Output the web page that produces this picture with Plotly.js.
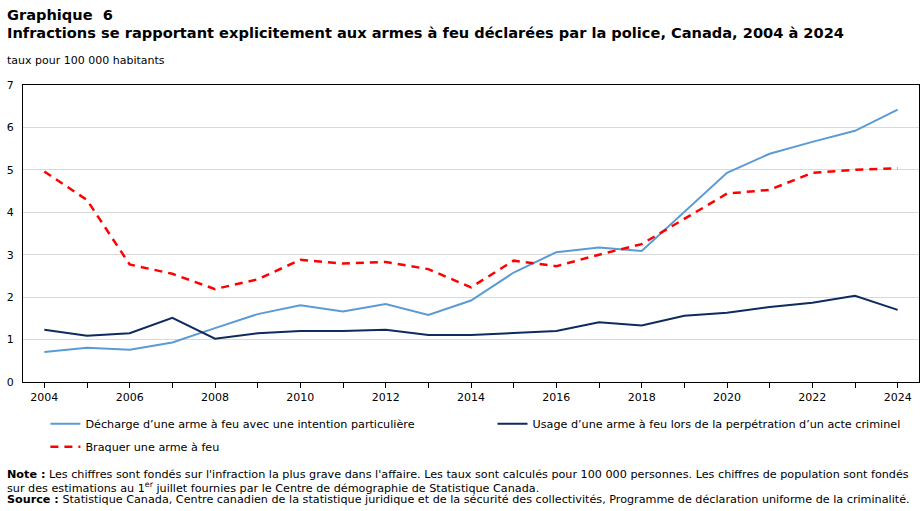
<!DOCTYPE html>
<html>
<head>
<meta charset="utf-8">
<script src="https://cdn.plot.ly/plotly-3.0.1.min.js"></script>
<style>
  html, body { margin: 0; padding: 0; background: #fff; }
  #chart { width: 924px; height: 511px; }
</style>
</head>
<body>
<div id="chart"></div>
<script>
// Années de référence
const years = [2004, 2005, 2006, 2007, 2008, 2009, 2010, 2011, 2012, 2013, 2014,
               2015, 2016, 2017, 2018, 2019, 2020, 2021, 2022, 2023, 2024];

// Taux pour 100 000 habitants
const decharge = [0.71, 0.81, 0.76, 0.93, 1.27, 1.60, 1.81, 1.66, 1.84, 1.58, 1.92,
                  2.58, 3.06, 3.17, 3.09, 4.01, 4.93, 5.38, 5.66, 5.92, 6.42];
const usage    = [1.23, 1.09, 1.15, 1.51, 1.02, 1.15, 1.20, 1.20, 1.23, 1.11, 1.11,
                  1.15, 1.20, 1.41, 1.33, 1.56, 1.63, 1.77, 1.87, 2.03, 1.70];
const braquer  = [4.96, 4.29, 2.77, 2.55, 2.19, 2.42, 2.88, 2.79, 2.83, 2.66, 2.23,
                  2.86, 2.73, 3.00, 3.25, 3.84, 4.44, 4.53, 4.93, 5.00, 5.04];

const seriesNames = [
  "Décharge d’une arme à feu avec une intention particulière",
  "Usage d’une arme à feu lors de la perpétration d’un acte criminel",
  "Braquer une arme à feu"
];

const xTickVals = [2004, 2006, 2008, 2010, 2012, 2014, 2016, 2018, 2020, 2022, 2024];
const yTickVals = [0, 1, 2, 3, 4, 5, 6, 7];

const baseFont = "Verdana, 'DejaVu Sans', sans-serif";
const legendFont = { family: baseFont, size: 11.2, color: "#000" };
const noteFont = { family: baseFont, size: 11.2, color: "#000" };

const traces = [
  { x: years, y: decharge, name: seriesNames[0], type: "scatter", mode: "lines",
    legend: "legend",
    line: { color: "#5b9bd5", width: 2 } },
  { x: years, y: usage, name: seriesNames[1], type: "scatter", mode: "lines",
    legend: "legend2",
    line: { color: "#0f2a5e", width: 2 } },
  { x: years, y: braquer, name: seriesNames[2], type: "scatter", mode: "lines",
    legend: "legend3",
    line: { color: "#ff0000", width: 2.5, dash: "8px,6px" } }
];

// Légende sur deux rangées : deux entrées en haut, une en dessous
const legendRow1 = -0.092;
const legendRow2 = -0.169;

const layout = {
  width: 924, height: 511,
  margin: { l: 23, r: 5, t: 85, b: 129 },
  paper_bgcolor: "#ffffff", plot_bgcolor: "#ffffff",
  font: { family: baseFont, size: 11, color: "#000" },
  showlegend: true,
  legend: {
    orientation: "v", x: 0.025, xanchor: "left", y: legendRow1, yanchor: "top",
    font: legendFont, itemwidth: 30
  },
  legend2: {
    orientation: "v", x: 0.524, xanchor: "left", y: legendRow1, yanchor: "top",
    font: legendFont, itemwidth: 30
  },
  legend3: {
    orientation: "v", x: 0.025, xanchor: "left", y: legendRow2, yanchor: "top",
    font: legendFont, itemwidth: 30
  },
  xaxis: {
    range: [2003.5, 2024.5], tickmode: "array", tickvals: xTickVals,
    ticktext: xTickVals.map(String),
    ticks: "outside", ticklen: 5, tickcolor: "#000", tickwidth: 1,
    minor: { dtick: 1, tick0: 2004, ticks: "outside", ticklen: 5, tickcolor: "#000", tickwidth: 1, showgrid: false },
    showline: true, linecolor: "#000", linewidth: 1, mirror: true,
    showgrid: false, zeroline: false, fixedrange: true,
    tickfont: { family: baseFont, size: 11, color: "#000" }
  },
  yaxis: {
    range: [0, 7], tickmode: "array", tickvals: yTickVals,
    ticks: "", showline: true, linecolor: "#000", linewidth: 1, mirror: true,
    showgrid: true, gridcolor: "#d9d9d9", gridwidth: 1, zeroline: false,
    ticklabelstandoff: 6, fixedrange: true,
    tickfont: { family: baseFont, size: 11, color: "#000" }
  },
  annotations: [
    { text: "<b>Graphique\u00a0 6</b>", xref: "paper", yref: "paper", x: -0.02, xanchor: "left",
      y: 1.239, yanchor: "middle", showarrow: false,
      font: { family: baseFont, size: 14.6, color: "#000" }, align: "left" },
    { text: "<b>Infractions se rapportant explicitement aux armes à feu déclarées par la police, Canada, 2004 à 2024</b>",
      xref: "paper", yref: "paper", x: -0.02, xanchor: "left",
      y: 1.178, yanchor: "middle", showarrow: false,
      font: { family: baseFont, size: 14.6, color: "#000" }, align: "left" },
    { text: "taux pour 100 000 habitants", xref: "paper", yref: "paper", x: -0.02, xanchor: "left",
      y: 1.084, yanchor: "middle", showarrow: false,
      font: { family: baseFont, size: 11, color: "#000" }, align: "left" },
    { text: "<b>Note :</b> Les chiffres sont fondés sur l'infraction la plus grave dans l'affaire. Les taux sont calculés pour 100 000 personnes. Les chiffres de population sont fondés",
      xref: "paper", yref: "paper", x: -0.02, xanchor: "left",
      y: (382 - 474) / 297, yanchor: "middle", showarrow: false, align: "left",
      font: noteFont },
    { text: "sur des estimations au 1<sup>er</sup> juillet fournies par le Centre de démographie de Statistique Canada.",
      xref: "paper", yref: "paper", x: -0.02, xanchor: "left",
      y: (382 - 487) / 297, yanchor: "middle", showarrow: false, align: "left",
      font: noteFont },
    { text: "<b>Source :</b> Statistique Canada, Centre canadien de la statistique juridique et de la sécurité des collectivités, Programme de déclaration uniforme de la criminalité.",
      xref: "paper", yref: "paper", x: -0.02, xanchor: "left",
      y: (382 - 499.5) / 297, yanchor: "middle", showarrow: false, align: "left",
      font: noteFont }
  ]
};

Plotly.newPlot("chart", traces, layout, { displayModeBar: false, staticPlot: true });
</script>
</body>
</html>
